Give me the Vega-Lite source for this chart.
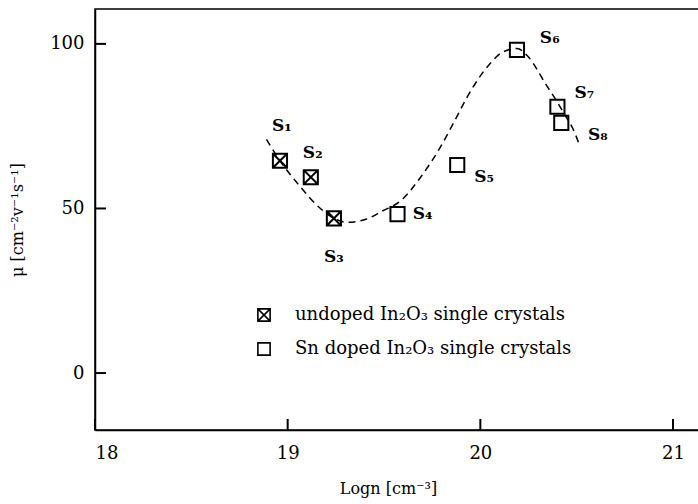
{
  "$schema": "https://vega.github.io/schema/vega-lite/v6.json",
  "width": 605,
  "height": 421,
  "autosize": {"type": "none"},
  "padding": {"left": 95, "top": 9, "right": 0, "bottom": 74},
  "background": "white",
  "config": {
    "view": {"stroke": "black", "strokeWidth": 1.5},
    "axis": {
      "domainColor": "black", "domainWidth": 1.5,
      "grid": false,
      "labelFont": "DejaVu Serif", "labelFontSize": 18, "labelColor": "black",
      "titleFont": "DejaVu Serif", "titleFontSize": 16, "titleFontWeight": "normal", "titleColor": "black"
    },
    "legend": {
      "labelFont": "DejaVu Serif", "labelFontSize": 18, "labelColor": "black", "labelLimit": 0
    }
  },
  "datasets": {
    "curve": [
      {"x": 18.89, "y": 71}, {"x": 18.96, "y": 64.5}, {"x": 19.06, "y": 57},
      {"x": 19.17, "y": 50}, {"x": 19.24, "y": 47}, {"x": 19.31, "y": 45.8},
      {"x": 19.41, "y": 46.8}, {"x": 19.49, "y": 49.2}, {"x": 19.59, "y": 52.5},
      {"x": 19.69, "y": 59.5}, {"x": 19.79, "y": 68.4}, {"x": 19.87, "y": 77},
      {"x": 19.93, "y": 83.7}, {"x": 20.05, "y": 94}, {"x": 20.11, "y": 97.3},
      {"x": 20.19, "y": 98.6}, {"x": 20.25, "y": 96}, {"x": 20.34, "y": 87.7},
      {"x": 20.39, "y": 83.2}, {"x": 20.44, "y": 78.3}, {"x": 20.48, "y": 74.3},
      {"x": 20.51, "y": 70}
    ],
    "samples": [
      {"x": 18.96, "y": 64.5, "type": "undoped In₂O₃ single crystals", "label": "S₁", "lx": 18.97, "ly": 75.2},
      {"x": 19.12, "y": 59.5, "type": "undoped In₂O₃ single crystals", "label": "S₂", "lx": 19.13, "ly": 66.8},
      {"x": 19.24, "y": 47, "type": "undoped In₂O₃ single crystals", "label": "S₃", "lx": 19.24, "ly": 35.3},
      {"x": 19.57, "y": 48.3, "type": "Sn doped In₂O₃ single crystals", "label": "S₄", "lx": 19.7, "ly": 48.3},
      {"x": 19.88, "y": 63.2, "type": "Sn doped In₂O₃ single crystals", "label": "S₅", "lx": 20.02, "ly": 59.6},
      {"x": 20.19, "y": 98.2, "type": "Sn doped In₂O₃ single crystals", "label": "S₆", "lx": 20.36, "ly": 101.8},
      {"x": 20.4, "y": 80.9, "type": "Sn doped In₂O₃ single crystals", "label": "S₇", "lx": 20.54, "ly": 85.1},
      {"x": 20.42, "y": 76, "type": "Sn doped In₂O₃ single crystals", "label": "S₈", "lx": 20.61, "ly": 72.3}
    ],
    "xticks": [{"v": 18}, {"v": 19}, {"v": 20}, {"v": 21}],
    "yticks": [{"v": 0}, {"v": 50}, {"v": 100}]
  },
  "layer": [
    {
      "data": {"name": "curve"},
      "mark": {"type": "line", "color": "black", "strokeWidth": 1.5, "strokeDash": [7, 5], "interpolate": "monotone"},
      "encoding": {
        "x": {"field": "x", "type": "quantitative", "scale": {"domain": [18, 21.14], "nice": false, "zero": false},
              "axis": {"orient": "bottom", "values": [18, 19, 20, 21], "format": "d", "ticks": false, "title": "Logn [cm⁻³]", "titleX": 293, "labelPadding": 14, "titlePadding": 18}},
        "y": {"field": "y", "type": "quantitative", "scale": {"domain": [-17.3, 110.6], "nice": false, "zero": false},
              "axis": {"orient": "left", "values": [0, 50, 100], "format": "d", "ticks": false, "title": "μ [cm⁻²v⁻¹s⁻¹]", "labelPadding": 11, "titlePadding": 24}}
      }
    },
    {
      "data": {"name": "xticks"},
      "mark": {"type": "tick", "orient": "vertical", "color": "black", "size": 11, "thickness": 2, "yOffset": -5.5, "opacity": 1},
      "encoding": {
        "x": {"field": "v", "type": "quantitative"},
        "y": {"datum": -17.3, "type": "quantitative"}
      }
    },
    {
      "data": {"name": "yticks"},
      "mark": {"type": "tick", "orient": "horizontal", "color": "black", "size": 11, "thickness": 2, "xOffset": 5.5, "opacity": 1},
      "encoding": {
        "y": {"field": "v", "type": "quantitative"},
        "x": {"datum": 18, "type": "quantitative"}
      }
    },
    {
      "data": {"name": "samples"},
      "mark": {"type": "point", "filled": false, "color": "black", "strokeWidth": 2, "size": 200, "opacity": 1},
      "encoding": {
        "x": {"field": "x", "type": "quantitative"},
        "y": {"field": "y", "type": "quantitative"},
        "shape": {
          "field": "type", "type": "nominal",
          "scale": {
            "domain": ["undoped In₂O₃ single crystals", "Sn doped In₂O₃ single crystals"],
            "range": ["M-1,-1H1V1H-1Z M-1,-1L1,1 M1,-1L-1,1", "square"]
          },
          "legend": {
            "title": null, "orient": "none", "legendX": 160, "legendY": 297,
            "symbolSize": 150, "symbolStrokeColor": "black", "symbolStrokeWidth": 1.6,
            "symbolFillColor": "transparent", "symbolOpacity": 1,
            "labelOffset": 22, "rowPadding": 14, "padding": 0
          }
        }
      }
    },
    {
      "data": {"name": "samples"},
      "mark": {"type": "text", "font": "DejaVu Serif", "fontSize": 17, "fontWeight": "bold", "color": "black", "align": "center", "baseline": "middle"},
      "encoding": {
        "x": {"field": "lx", "type": "quantitative"},
        "y": {"field": "ly", "type": "quantitative"},
        "text": {"field": "label"}
      }
    }
  ]
}
